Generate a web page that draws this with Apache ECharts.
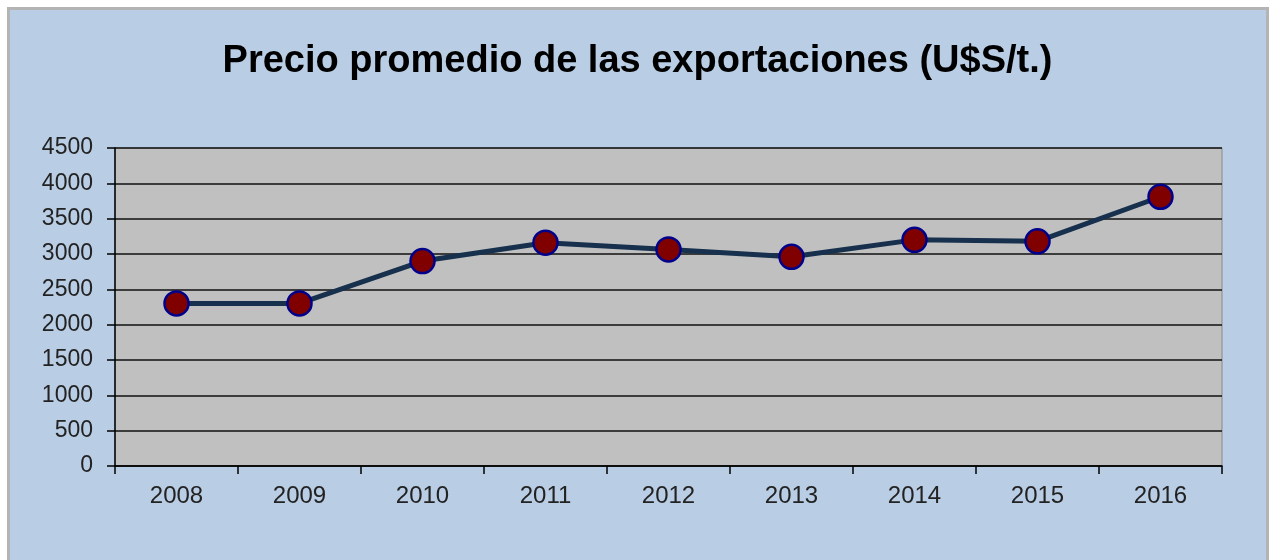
<!DOCTYPE html>
<html>
<head>
<meta charset="utf-8">
<script src="https://cdn.jsdelivr.net/npm/echarts@6/dist/echarts.min.js"></script>
<style>
  html, body { margin: 0; padding: 0; background: #fff; }
  .panel {
    position: absolute; left: 7px; top: 7px; width: 1256px; height: 560px;
    background: #b9cde5;
    border-top: 3px solid #b4b4b4; border-left: 3px solid #b4b4b4; border-right: 3px solid #b4b4b4;
  }
  #chart { position: absolute; left: 0; top: 0; width: 1275px; height: 560px; }
</style>
</head>
<body>
<div class="panel"></div>
<div id="chart"></div>
<script>
const years = ['2008', '2009', '2010', '2011', '2012', '2013', '2014', '2015', '2016']
const prices = [2300, 2300, 2900, 3160, 3065, 2960, 3200, 3180, 3810]
const yTicks = { min: 0, max: 4500, step: 500 }

const chart = echarts.init(document.getElementById('chart'))
const options = {
  backgroundColor: 'transparent',
  animation: false,
  title: {
    text: 'Precio promedio de las exportaciones (U$S/t.)',
    left: 'center',
    top: 38,
    textStyle: {
      fontFamily: 'Liberation Sans',
      fontWeight: 'bold',
      fontSize: 38,
      color: '#000'
    }
  },
  grid: {
    left: 115,
    top: 148,
    width: 1107,
    height: 318,
    show: true,
    backgroundColor: '#c0c0c0',
    borderColor: '#8a8a8a',
    borderWidth: 1
  },
  xAxis: {
    type: 'category',
    data: years,
    boundaryGap: true,
    axisLine: { lineStyle: { color: '#000', width: 1.5 } },
    axisTick: { show: true, length: 8, lineStyle: { color: '#000', width: 1.5 } },
    axisLabel: {
      margin: 18,
      fontFamily: 'Liberation Sans',
      fontSize: 24,
      color: '#222'
    }
  },
  yAxis: {
    type: 'value',
    min: yTicks.min,
    max: yTicks.max,
    interval: yTicks.step,
    axisLine: { show: true, lineStyle: { color: '#000', width: 1.5 } },
    axisTick: { show: true, length: 8, lineStyle: { color: '#000', width: 1.5 } },
    axisLabel: {
      margin: 22,
      fontFamily: 'Liberation Sans',
      fontSize: 23,
      color: '#222',
      formatter: v => String(v)
    },
    splitLine: { lineStyle: { color: '#111', width: 1.5 } }
  },
  series: [{
    type: 'line',
    data: prices,
    symbol: 'circle',
    symbolSize: 24,
    lineStyle: { color: '#16304d', width: 5 },
    itemStyle: { color: '#800000', borderColor: '#00008b', borderWidth: 2.5 }
  }]
}
chart.setOption(options)
</script>
</body>
</html>
